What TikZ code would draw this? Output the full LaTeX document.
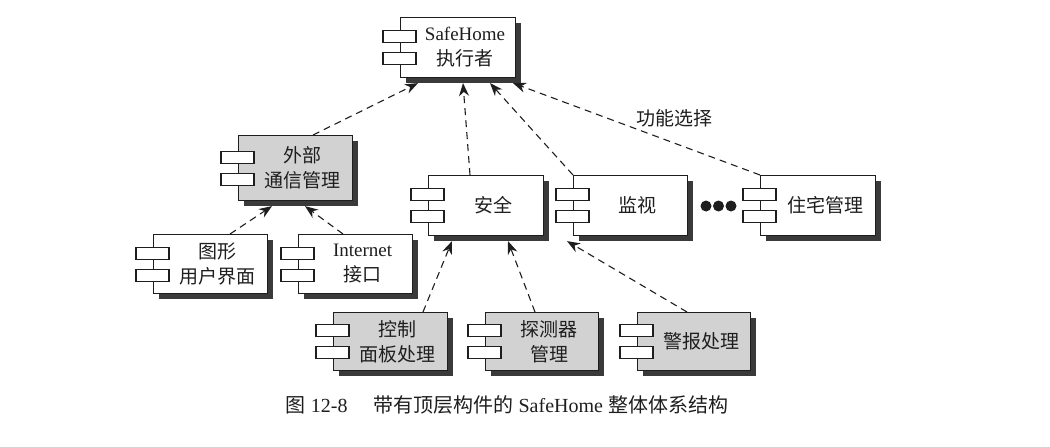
\documentclass[tikz,border=0pt]{standalone}
\usepackage{fontspec}
\setmainfont{Liberation Serif}
\newfontfamily\cjk{Noto Sans CJK SC}
\usetikzlibrary{shadows,calc,arrows.meta}

\definecolor{ink}{HTML}{1E1E1E}
\definecolor{panel}{HTML}{D2D2D2}
\definecolor{shade}{HTML}{3A3A3A}

\tikzset{
  compbox/.style={draw=ink, line width=1.1pt, inner sep=0pt, anchor=north west,
    drop shadow={shadow xshift=5pt, shadow yshift=-5pt, fill=shade, opacity=1}},
  bar/.style={draw=ink, line width=1.1pt, fill=white},
  lbl/.style={text=ink, align=center, inner sep=0pt, font=\fontsize{19}{25}\selectfont},
  dep/.style={draw=ink, line width=1.1pt, dash pattern=on 7pt off 5pt,
    -{Stealth[length=13pt,width=10pt]}},
  dot/.style={circle, fill=ink, inner sep=0pt, minimum size=11pt},
}

% UML component: box with two tabs on its left edge and a centred label
% #1 name, #2 top-left corner, #3 width, #4 height, #5 fill, #6 text
\newcommand\component[6]{%
  \node[compbox, fill=#5, minimum width=#3pt, minimum height=#4pt] (#1) at (#2) {};
  \draw[bar] ($(#1.west)+(-17,-17)$) rectangle ++(33,12);
  \draw[bar] ($(#1.west)+(-17,5)$) rectangle ++(33,12);
  \node[lbl] (#1-text) at ($(#1.center)+(7,0)$) {#6};
}

\begin{document}
\begin{tikzpicture}[x=1pt, y=-1pt]
  \useasboundingbox (0,0) rectangle (1050,447);

  \component{safe}{400,17}{115}{60}{white}{SafeHome\\{\cjk 执行者}}
  \component{ext}{238,135}{114}{65}{panel}{{\cjk 外部}\\{\cjk 通信管理}}
  \component{gui}{153,234}{114}{59}{white}{{\cjk 图形}\\{\cjk 用户界面}}
  \component{inet}{298,234}{114}{59}{white}{Internet\\{\cjk 接口}}
  \component{sec}{428,175}{115}{60}{white}{{\cjk 安全}}
  \component{mon}{573,175}{114}{60}{white}{{\cjk 监视}}
  \component{home}{760,175}{115}{60}{white}{{\cjk 住宅管理}}
  \component{ctl}{333,312}{114}{58}{panel}{{\cjk 控制}\\{\cjk 面板处理}}
  \component{det}{485,312}{113}{58}{panel}{{\cjk 探测器}\\{\cjk 管理}}
  \component{alm}{637,312}{113}{58}{panel}{{\cjk 警报处理}}

  % ellipsis between the monitoring and home-management components
  \node[dot] (dot1) at (706,206) {};
  \node[dot] (dot2) at (718.5,206) {};
  \node[dot] (dot3) at (731,206) {};

  % dependencies
  \draw[dep] ($(ext.north west)+(75,0)$) -- ($(safe.south west)+(18,5)$);
  \draw[dep] ($(sec.north west)+(42,0)$) -- ($(safe.south west)+(63,5)$);
  \draw[dep] (mon.north west) -- ($(safe.south west)+(90,5)$);
  \draw[dep] (home.north west) -- ($(safe.south west)+(113,5)$);
  \draw[dep] ($(gui.north west)+(77,0)$) -- ($(ext.south west)+(34,5)$);
  \draw[dep] ($(inet.north west)+(45,0)$) -- ($(ext.south west)+(67,5)$);
  \draw[dep] ($(ctl.north west)+(90,0)$) -- ($(sec.south west)+(24,5)$);
  \draw[dep] ($(det.north west)+(50,0)$) -- ($(sec.south west)+(80,5)$);
  \draw[dep] ($(alm.north west)+(50,0)$) -- ($(mon.south west)+(-6,5)$);

  \node[lbl] (choice) at (674,118) {\cjk 功能选择};

  \node[text=ink, inner sep=0pt, font=\fontsize{20}{24}\selectfont] (caption) at (507,405)
    {{\cjk 图} 12-8\hspace{1.3em}{\cjk 带有顶层构件的} SafeHome {\cjk 整体体系结构}};
\end{tikzpicture}
\end{document}
